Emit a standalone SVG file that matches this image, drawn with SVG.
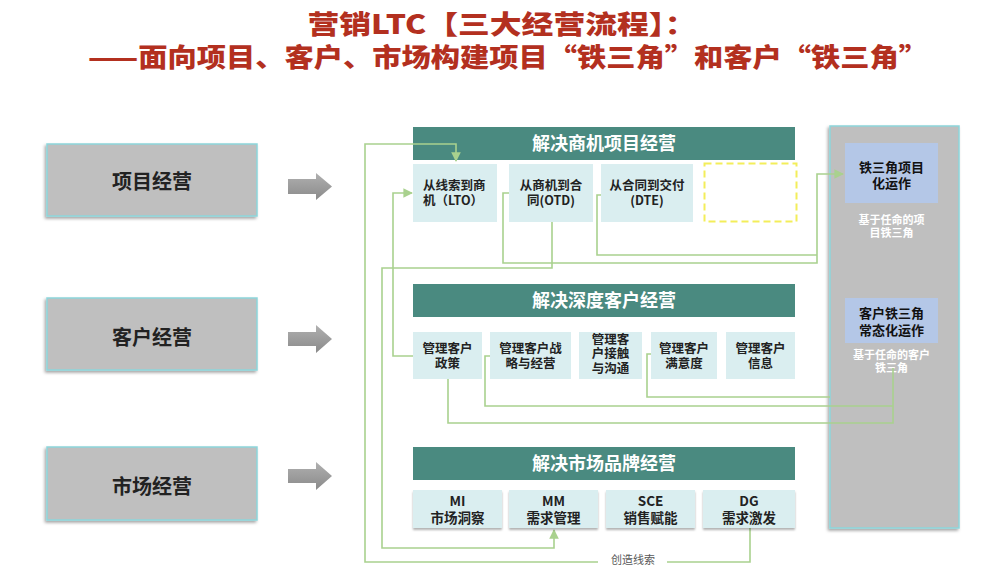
<svg xmlns="http://www.w3.org/2000/svg" width="1003" height="576" viewBox="0 0 1003 576">
<defs>
<style>
text{font-family:"Noto Sans CJK SC","Noto Sans",sans-serif;}
.title{font-size:26px;font-weight:900;fill:#B3301F;text-anchor:middle;}
.lbox{fill:#BFBFBF;stroke:#8DD6DB;stroke-width:1.5;}
.ltxt{font-size:20px;font-weight:700;fill:#222;text-anchor:middle;}
.hdr{fill:#4A8A80;}
.htxt{font-size:18px;font-weight:700;fill:#fff;text-anchor:middle;}
.box{fill:#DAEEF0;}
.btxt{font-size:12.5px;font-weight:700;fill:#222;text-anchor:middle;}
.mtxt{font-size:13.5px;font-weight:700;fill:#222;text-anchor:middle;}
.bluebox{fill:#B4C7E7;}
.rtxt{font-size:13px;font-weight:700;fill:#111;text-anchor:middle;}
.wtxt{font-size:11px;font-weight:700;fill:#fff;text-anchor:middle;}
.conn{fill:none;stroke:#A9D18E;stroke-width:1.6;}
.note{font-size:11px;fill:#595959;text-anchor:middle;}
.garrow{fill:url(#ag);}
</style>
<linearGradient id="ag" x1="0" y1="0" x2="0" y2="1">
<stop offset="0" stop-color="#B0B0B0"/>
<stop offset="1" stop-color="#8A8A8A"/>
</linearGradient>
<filter id="sh" x="-10%" y="-10%" width="120%" height="130%">
<feDropShadow dx="-1.5" dy="2" stdDeviation="1.5" flood-color="#000" flood-opacity="0.35"/>
</filter>
<filter id="sh2" x="-10%" y="-10%" width="120%" height="140%">
<feDropShadow dx="0" dy="2" stdDeviation="1" flood-color="#000" flood-opacity="0.3"/>
</filter>
<marker id="ah" viewBox="0 0 10 10" refX="9" refY="5" markerWidth="6" markerHeight="6" orient="auto">
<path d="M0,0 L10,5 L0,10 z" fill="#A9D18E"/>
</marker>
</defs>
<rect width="1003" height="576" fill="#fff"/>

<g id="title">
<text class="title" x="502" y="34" textLength="389" lengthAdjust="spacingAndGlyphs">营销LTC【三大经营流程】：</text>
<text class="title" x="508" y="67" textLength="840" lengthAdjust="spacingAndGlyphs">——面向项目、客户、市场构建项目“铁三角”和客户“铁三角”</text>
</g>

<g id="left-project">
<rect class="lbox" x="47" y="144" width="210" height="72" filter="url(#sh)"/>
<text class="ltxt" x="152" y="189">项目经营</text>
</g>
<g id="left-customer">
<rect class="lbox" x="47" y="298" width="210" height="72" filter="url(#sh)"/>
<text class="ltxt" x="152" y="345">客户经营</text>
</g>
<g id="left-market">
<rect class="lbox" x="47" y="447" width="210" height="73" filter="url(#sh)"/>
<text class="ltxt" x="152" y="494">市场经营</text>
</g>

<g id="arrows-left">
<polygon class="garrow" points="288,179 316,179 316,173 332,186.5 316,200 316,194 288,194"/>
<polygon class="garrow" points="288,332 316,332 316,325 332,339 316,353 316,346 288,346"/>
<polygon class="garrow" points="288,469 316,469 316,462 332,476 316,490 316,483 288,483"/>
</g>

<g id="right-panel">
<rect x="830" y="126" width="129" height="402" fill="#BFBFBF" stroke="#8DD6DB" stroke-width="1.5" filter="url(#sh)"/>
</g>
<g id="iron-project">
<rect class="bluebox" x="845" y="143" width="93" height="60"/>
<text class="rtxt" x="891.5" y="172">铁三角项目</text>
<text class="rtxt" x="891.5" y="188">化运作</text>
<text class="wtxt" x="891.5" y="224">基于任命的项</text>
<text class="wtxt" x="891.5" y="237">目铁三角</text>
</g>
<g id="iron-customer">
<rect class="bluebox" x="845" y="298" width="93" height="45"/>
<text class="rtxt" x="891.5" y="318">客户铁三角</text>
<text class="rtxt" x="891.5" y="335">常态化运作</text>
<text class="wtxt" x="891.5" y="359">基于任命的客户</text>
<text class="wtxt" x="891.5" y="372">铁三角</text>
</g>

<g id="hdr-project">
<rect class="hdr" x="413" y="127" width="382" height="33"/>
<text class="htxt" x="604" y="150">解决商机项目经营</text>
</g>
<g id="hdr-customer">
<rect class="hdr" x="413" y="284" width="382" height="33"/>
<text class="htxt" x="604" y="307">解决深度客户经营</text>
</g>
<g id="hdr-market">
<rect class="hdr" x="413" y="447" width="382" height="33"/>
<text class="htxt" x="604" y="470">解决市场品牌经营</text>
</g>

<g id="connectors">
<path class="conn" d="M750,528 V562 H667"/>
<path class="conn" d="M598,562 H365 V144 H456 V161" marker-end="url(#ah)"/>
<path class="conn" d="M413,356 H393 V193 H412" marker-end="url(#ah)"/>
<path class="conn" d="M552,222 V268 H382 V548 H554 V530" marker-end="url(#ah)"/>
<path class="conn" d="M509,193 H503 V263 H817 V174 H843" marker-end="url(#ah)"/>
<path class="conn" d="M601,195 H597 V255 H817"/>
<path class="conn" d="M448,379 V423 H893 V368"/>
<path class="conn" d="M490,356 H485 V406 H893"/>
<path class="conn" d="M651,354 H647 V397 H830"/>
<text class="note" x="633" y="564">创造线索</text>
</g>

<g id="lto">
<rect class="box" x="413" y="164" width="84" height="58"/>
<text class="btxt" x="423" y="190" text-anchor="start" style="text-anchor:start">从线索到商</text>
<text class="btxt" x="423" y="205" style="text-anchor:start">机（LTO）</text>
</g>
<g id="otd">
<rect class="box" x="509" y="164" width="84" height="58"/>
<text class="btxt" x="551" y="190">从商机到合</text>
<text class="btxt" x="551" y="205">同(OTD)</text>
</g>
<g id="dte">
<rect class="box" x="601" y="164" width="92" height="58"/>
<text class="btxt" x="647" y="190">从合同到交付</text>
<text class="btxt" x="647" y="205">(DTE)</text>
</g>
<g id="placeholder">
<rect x="704.5" y="163.5" width="92" height="58" fill="none" stroke="#F3EE5A" stroke-width="2" stroke-dasharray="7,4"/>
</g>

<g id="c-policy">
<rect class="box" x="413" y="332" width="69" height="47"/>
<text class="btxt" x="447.5" y="353">管理客户</text>
<text class="btxt" x="447.5" y="368">政策</text>
</g>
<g id="c-strategy">
<rect class="box" x="490" y="332" width="81" height="47"/>
<text class="btxt" x="530.5" y="353">管理客户战</text>
<text class="btxt" x="530.5" y="368">略与经营</text>
</g>
<g id="c-contact">
<rect class="box" x="579" y="332" width="63" height="47"/>
<text class="btxt" x="610.5" y="344">管理客</text>
<text class="btxt" x="610.5" y="358">户接触</text>
<text class="btxt" x="610.5" y="373">与沟通</text>
</g>
<g id="c-satisfaction">
<rect class="box" x="651" y="332" width="66" height="47"/>
<text class="btxt" x="684" y="353">管理客户</text>
<text class="btxt" x="684" y="368">满意度</text>
</g>
<g id="c-info">
<rect class="box" x="726" y="332" width="69" height="47"/>
<text class="btxt" x="760.5" y="353">管理客户</text>
<text class="btxt" x="760.5" y="368">信息</text>
</g>

<g id="m-mi">
<rect class="box" x="413" y="490" width="89" height="38" filter="url(#sh2)"/>
<text class="mtxt" x="457.5" y="506">MI</text>
<text class="mtxt" x="457.5" y="523">市场洞察</text>
</g>
<g id="m-mm">
<rect class="box" x="509" y="490" width="89" height="38" filter="url(#sh2)"/>
<text class="mtxt" x="553.5" y="506">MM</text>
<text class="mtxt" x="553.5" y="523">需求管理</text>
</g>
<g id="m-sce">
<rect class="box" x="606" y="490" width="89" height="38" filter="url(#sh2)"/>
<text class="mtxt" x="650.5" y="506">SCE</text>
<text class="mtxt" x="650.5" y="523">销售赋能</text>
</g>
<g id="m-dg">
<rect class="box" x="703" y="490" width="92" height="38" filter="url(#sh2)"/>
<text class="mtxt" x="749" y="506">DG</text>
<text class="mtxt" x="749" y="523">需求激发</text>
</g>
</svg>
